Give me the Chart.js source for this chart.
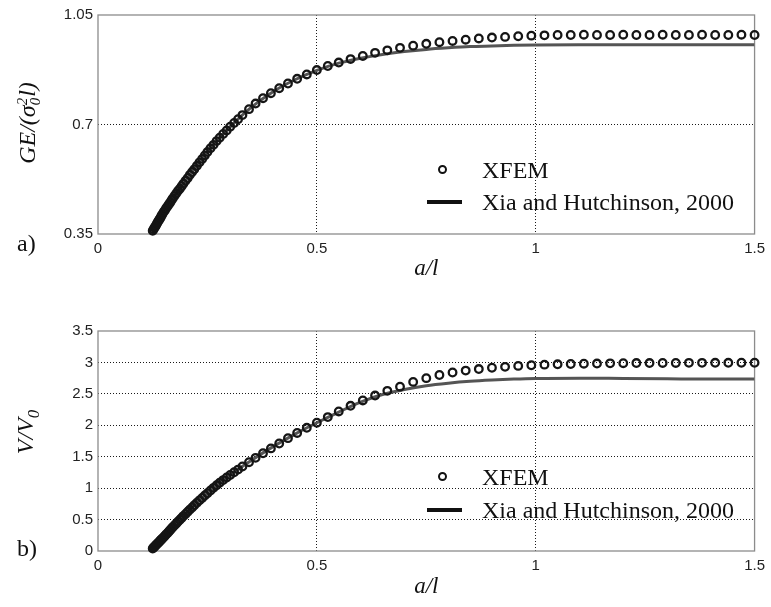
<!DOCTYPE html>
<html>
<head>
<meta charset="utf-8">
<script src="https://cdn.jsdelivr.net/npm/chart.js@4.4.1/dist/chart.umd.min.js"></script>
<style>
  body { margin: 0; background: #fff; width: 771px; height: 607px; position: relative; overflow: hidden; }
  canvas { position: absolute; left: 0; }
  .t { position: absolute; font-family: "Liberation Serif", "Times New Roman", serif; color: #111; white-space: nowrap; }
  .ytitle { font-size: 24px; font-style: italic; transform: translate(-50%, -50%) rotate(-90deg); }
  .ss { display: inline-block; vertical-align: middle; font-size: 0.62em; line-height: 0.9; margin: 0 1px 0 0; }
  .ss span { display: block; }
  .lab { font-size: 24px; line-height: 26px; }
  .mark { position: absolute; width: 5px; height: 5px; border: 2px solid #111; border-radius: 50%; }
  .bar { position: absolute; width: 35px; height: 4px; background: #111; }
</style>
</head>
<body>
<canvas id="topChart" width="771" height="300" style="top:0"></canvas>
<canvas id="bottomChart" width="771" height="307" style="top:300px"></canvas>

<div class="t ytitle" style="left:28px;top:123px">GE/(σ<span class="ss"><span>2</span><span>0</span></span>l)</div>
<div class="t ytitle" style="left:28px;top:432px">V/V<sub style="font-size:0.7em">0</sub></div>
<div class="t lab" style="left:17px;top:230px">a)</div>
<div class="t lab" style="left:17px;top:535px">b)</div>

<div class="mark" style="left:438px;top:165px"></div>
<div class="t lab" style="left:482px;top:157px">XFEM</div>
<div class="bar" style="left:427px;top:200px"></div>
<div class="t lab" style="left:482px;top:189px">Xia and Hutchinson, 2000</div>

<div class="mark" style="left:438px;top:472px"></div>
<div class="t lab" style="left:482px;top:464px">XFEM</div>
<div class="bar" style="left:427px;top:508px"></div>
<div class="t lab" style="left:482px;top:497px">Xia and Hutchinson, 2000</div>

<script>
// a/l positions of the XFEM markers (dense near the start)
const xfemA = [0.125, 0.127, 0.129, 0.131, 0.133, 0.135, 0.137, 0.139, 0.141, 0.143,
  0.145, 0.147, 0.15, 0.153, 0.156, 0.159, 0.162, 0.165, 0.168, 0.171,
  0.175, 0.179, 0.183, 0.187, 0.191, 0.195, 0.2, 0.205, 0.21, 0.215,
  0.22, 0.226, 0.232, 0.238, 0.244, 0.25, 0.257, 0.264, 0.271, 0.278,
  0.286, 0.294, 0.302, 0.311, 0.32, 0.33, 0.345, 0.36, 0.377, 0.395,
  0.414, 0.434, 0.455, 0.477, 0.5, 0.525, 0.55, 0.577, 0.605, 0.633,
  0.661, 0.69, 0.72, 0.75, 0.78, 0.81, 0.84, 0.87, 0.9, 0.93,
  0.96, 0.99, 1.02, 1.05, 1.08, 1.11, 1.14, 1.17, 1.2, 1.23,
  1.26, 1.29, 1.32, 1.35, 1.38, 1.41, 1.44, 1.47, 1.5];
// a) GE/(sigma0^2 l)
const xfemGE = [0.36, 0.365, 0.37, 0.374, 0.379, 0.384, 0.389, 0.394, 0.398, 0.403,
  0.408, 0.413, 0.42, 0.426, 0.433, 0.439, 0.445, 0.451, 0.458, 0.464,
  0.472, 0.48, 0.488, 0.495, 0.503, 0.511, 0.52, 0.529, 0.539, 0.548,
  0.557, 0.568, 0.579, 0.59, 0.601, 0.612, 0.624, 0.635, 0.647, 0.658,
  0.67, 0.681, 0.693, 0.705, 0.717, 0.73, 0.749, 0.767, 0.784, 0.8,
  0.816, 0.831, 0.846, 0.86, 0.874, 0.887, 0.898, 0.909, 0.919, 0.929,
  0.937, 0.945, 0.952, 0.958, 0.963, 0.967, 0.971, 0.975, 0.978, 0.98,
  0.982, 0.984, 0.985, 0.986, 0.986, 0.987, 0.986, 0.986, 0.987, 0.986,
  0.986, 0.987, 0.986, 0.986, 0.987, 0.986, 0.986, 0.987, 0.986];
// b) V/V0
const xfemV = [0.04, 0.054, 0.069, 0.083, 0.098, 0.112, 0.126, 0.141, 0.155, 0.17,
  0.184, 0.198, 0.22, 0.242, 0.265, 0.288, 0.311, 0.334, 0.357, 0.38,
  0.41, 0.439, 0.468, 0.497, 0.526, 0.555, 0.59, 0.625, 0.659, 0.693,
  0.727, 0.767, 0.806, 0.845, 0.883, 0.92, 0.963, 1.005, 1.045, 1.085,
  1.128, 1.17, 1.21, 1.253, 1.295, 1.345, 1.413, 1.482, 1.555, 1.632,
  1.71, 1.795, 1.878, 1.96, 2.04, 2.13, 2.22, 2.31, 2.395, 2.473,
  2.548, 2.615, 2.69, 2.75, 2.8, 2.84, 2.87, 2.895, 2.915, 2.93,
  2.945, 2.955, 2.965, 2.97, 2.975, 2.98, 2.982, 2.985, 2.988, 2.99,
  2.99, 2.992, 2.992, 2.993, 2.993, 2.994, 2.994, 2.995, 2.995];

// Xia and Hutchinson, 2000
const xiaA = [0.125, 0.15, 0.175, 0.2, 0.25, 0.3, 0.35, 0.4, 0.45, 0.5,
  0.55, 0.6, 0.65, 0.7, 0.75, 0.8, 0.85, 0.9, 0.95, 1.0,
  1.1, 1.2, 1.3, 1.4, 1.5];
const xiaGE = [0.36, 0.42, 0.472, 0.52, 0.612, 0.69, 0.755, 0.805, 0.843, 0.873,
  0.896, 0.912, 0.924, 0.933, 0.94, 0.945, 0.949, 0.951, 0.953, 0.954,
  0.955, 0.955, 0.955, 0.955, 0.955];
const xiaV = [0.04, 0.22, 0.41, 0.59, 0.92, 1.2, 1.44, 1.66, 1.86, 2.04,
  2.21, 2.37, 2.49, 2.57, 2.63, 2.67, 2.7, 2.72, 2.735, 2.745,
  2.75, 2.745, 2.74, 2.735, 2.735];

const xTicks = [0, 0.5, 1, 1.5];
const geTicks = [0.35, 0.7, 1.05];
const vTicks = [0, 0.5, 1, 1.5, 2, 2.5, 3, 3.5];

const toPoints = (xs, ys) => xs.map((x, i) => ({ x: x, y: ys[i] }));

// grey frame round the plot area
const framePlugin = {
  id: 'frame',
  beforeDatasetsDraw(chart) {
    const a = chart.chartArea, c = chart.ctx;
    c.save();
    c.strokeStyle = '#8c8c8c';
    c.lineWidth = 1.3;
    c.strokeRect(a.left, a.top, a.right - a.left, a.bottom - a.top);
    c.restore();
  }
};

const tickFont = { family: '"Liberation Sans", Arial, sans-serif', size: 15 };

const makeChart = (id, ys, lineYs, yTicks, pad, xHeight) => {
  const yMin = yTicks[0], yMax = yTicks[yTicks.length - 1];
  const edgeGrid = (min, max) => (ctx) =>
    (ctx.tick && (Math.abs(ctx.tick.value - min) < 1e-9 || Math.abs(ctx.tick.value - max) < 1e-9)) ? 'rgba(0,0,0,0)' : '#1a1a1a';
  return new Chart(document.getElementById(id), {
    type: 'scatter',
    data: {
      datasets: [
        {
          label: 'XFEM',
          data: toPoints(xfemA, ys),
          pointStyle: 'circle',
          pointRadius: 3.8,
          pointBorderWidth: 2.3,
          pointBorderColor: '#151515',
          pointBackgroundColor: 'rgba(255,255,255,0)',
          clip: false
        },
        {
          label: 'Xia and Hutchinson, 2000',
          data: toPoints(xiaA, lineYs),
          showLine: true,
          pointRadius: 0,
          borderColor: '#555',
          borderWidth: 3,
          cubicInterpolationMode: 'monotone'
        }
      ]
    },
    options: {
      responsive: false,
      animation: false,
      layout: { padding: pad },
      plugins: { legend: { display: false }, tooltip: { enabled: false } },
      scales: {
        x: {
          type: 'linear',
          min: 0, max: 1.5,
          afterBuildTicks: (s) => { s.ticks = xTicks.map(v => ({ value: v })); },
          afterFit: (s) => { s.height = xHeight; },
          ticks: { font: tickFont, color: '#222', padding: 6, maxRotation: 0, callback: (v) => String(v) },
          grid: { color: edgeGrid(0, 1.5), lineWidth: 1, drawTicks: false },
          border: { display: false, dash: [1, 2] },
          title: {
            display: true, text: 'a/l', padding: 0,
            font: { family: '"Liberation Serif", "Times New Roman", serif', size: 23, style: 'italic' },
            color: '#111'
          }
        },
        y: {
          type: 'linear',
          min: yMin, max: yMax,
          afterBuildTicks: (s) => { s.ticks = yTicks.map(v => ({ value: v })); },
          afterFit: (s) => { s.width = 58; },
          ticks: { font: tickFont, color: '#222', padding: 5, callback: (v) => String(v) },
          grid: { color: edgeGrid(yMin, yMax), lineWidth: 1, drawTicks: false },
          border: { display: false, dash: [1, 2] }
        }
      }
    },
    plugins: [framePlugin]
  });
};

makeChart('topChart', xfemGE, xiaGE, geTicks, { left: 40, right: 13, top: 15, bottom: 17 }, 49);
makeChart('bottomChart', xfemV, xiaV, vTicks, { left: 40, right: 13, top: 31, bottom: 6 }, 50);
</script>
</body>
</html>
